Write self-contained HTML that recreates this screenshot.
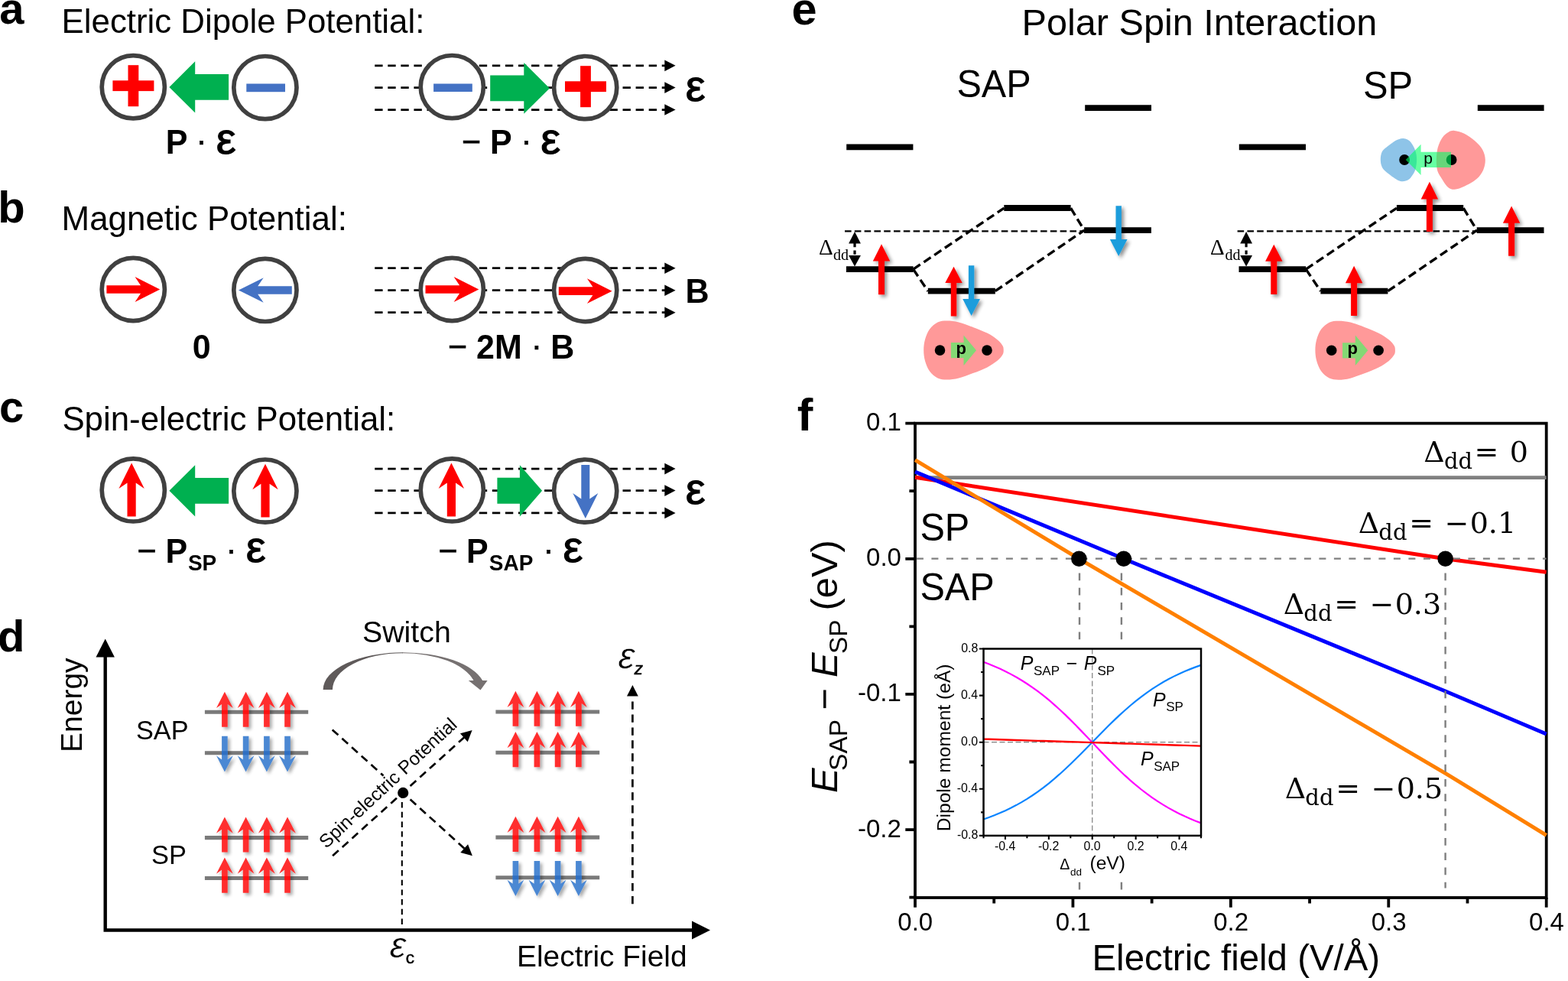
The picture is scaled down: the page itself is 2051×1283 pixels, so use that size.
<!DOCTYPE html>
<html lang="en">
<head>
<meta charset="utf-8">
<title>Spin-electric potential figure</title>
<style>
html,body{margin:0;padding:0;background:#fff}
body{width:2051px;height:1283px;overflow:hidden}
svg{display:block}
text{white-space:pre}
</style>
</head>
<body>
<svg width="2051" height="1283" viewBox="0 0 2051 1283">
<rect width="2051" height="1283" fill="#fff"/>
<defs>
<filter id="sh" x="-60%" y="-30%" width="240%" height="170%">
<feGaussianBlur in="SourceAlpha" stdDeviation="2.3"/>
<feOffset dx="2.8" dy="2.8" result="b"/>
<feComponentTransfer><feFuncA type="linear" slope="0.34"/></feComponentTransfer>
<feMerge><feMergeNode/><feMergeNode in="SourceGraphic"/></feMerge>
</filter>
<filter id="sh2" x="-80%" y="-30%" width="300%" height="170%">
<feGaussianBlur in="SourceAlpha" stdDeviation="2.8"/>
<feOffset dx="3.4" dy="3" result="b"/>
<feComponentTransfer><feFuncA type="linear" slope="0.45"/></feComponentTransfer>
<feMerge><feMergeNode/><feMergeNode in="SourceGraphic"/></feMerge>
</filter>
</defs>
<!-- panel a -->
<text x="-0.7" y="30.8" font-family='"Liberation Sans", sans-serif' font-size="58" font-weight="bold">a</text>
<text x="80.61" y="43.4" font-family='"Liberation Sans", sans-serif' font-size="43.8">Electric Dipole Potential:</text>
<circle cx="174.3" cy="113.8" r="41.1" fill="#fff" stroke="#404040" stroke-width="5.7"/>
<rect x="147.4" y="105.3" width="54" height="13.8" fill="#ff0000"/>
<rect x="167.5" y="85.2" width="13.8" height="54" fill="#ff0000"/>
<polygon points="299.1,130.8 255.2,130.8 255.2,147.5 221.4,113.9 255.2,80.3 255.2,97 299.1,97" fill="#00b050"/>
<circle cx="346.9" cy="114.6" r="41.1" fill="#fff" stroke="#404040" stroke-width="5.7"/>
<rect x="322.3" y="109.5" width="50.7" height="10.7" fill="#4472c4"/>
<text font-family='"Liberation Sans", sans-serif' font-size="43" font-weight="bold" transform="translate(216.72 201.4) scale(1 1.045)">P</text>
<text x="256.25" y="198.4" font-family='"Liberation Sans", sans-serif' font-size="43" stroke="#000" stroke-width="0.7">·</text>
<text x="282.82" y="200.7" font-family='"Liberation Sans", sans-serif' font-size="58" stroke="#000" stroke-width="1.2">ε</text>
<line x1="490.2" y1="85.84" x2="870.5" y2="85.84" stroke="#000" stroke-width="2.7" stroke-dasharray="10.4 6.67"/>
<polygon points="869.3,78.54 883.6,85.84 869.3,93.14" fill="#000"/>
<line x1="490.2" y1="114.6" x2="870.5" y2="114.6" stroke="#000" stroke-width="2.7" stroke-dasharray="10.4 6.67"/>
<polygon points="869.3,107.3 883.6,114.6 869.3,121.9" fill="#000"/>
<line x1="490.2" y1="143.57" x2="870.5" y2="143.57" stroke="#000" stroke-width="2.7" stroke-dasharray="10.4 6.67"/>
<polygon points="869.3,136.27 883.6,143.57 869.3,150.87" fill="#000"/>
<circle cx="591.3" cy="113.6" r="41.1" fill="#fff" stroke="#404040" stroke-width="5.7"/>
<rect x="567.1" y="109.5" width="50.7" height="10.5" fill="#4472c4"/>
<polygon points="641.2,98.55 685.3,98.55 685.3,82.1 718.9,115.4 685.3,148.7 685.3,132.25 641.2,132.25" fill="#00b050"/>
<circle cx="765.7" cy="114.6" r="41.1" fill="#fff" stroke="#404040" stroke-width="5.7"/>
<rect x="739" y="106.3" width="54" height="13.8" fill="#ff0000"/>
<rect x="759.1" y="86.2" width="13.8" height="54" fill="#ff0000"/>
<text x="896.82" y="131.9" font-family='"Liberation Sans", sans-serif' font-size="58" stroke="#000" stroke-width="1.2">ε</text>
<text x="603.88" y="200.4" font-family='"Liberation Sans", sans-serif' font-size="43" stroke="#000" stroke-width="0.7">−</text>
<text font-family='"Liberation Sans", sans-serif' font-size="43" font-weight="bold" transform="translate(640.92 201.4) scale(1 1.045)">P</text>
<text x="681.35" y="198.4" font-family='"Liberation Sans", sans-serif' font-size="43" stroke="#000" stroke-width="0.7">·</text>
<text x="707.22" y="200.7" font-family='"Liberation Sans", sans-serif' font-size="58" stroke="#000" stroke-width="1.2">ε</text>
<!-- panel b -->
<text x="-2.72" y="290.7" font-family='"Liberation Sans", sans-serif' font-size="58" font-weight="bold">b</text>
<text x="80.6" y="300.7" font-family='"Liberation Sans", sans-serif' font-size="43.9">Magnetic Potential:</text>
<circle cx="174.3" cy="378.5" r="41.1" fill="#fff" stroke="#404040" stroke-width="5.7"/>
<polygon points="139.4,373.15 184,373.15 176.5,362.1 209.2,378.5 176.5,394.9 184,383.85 139.4,383.85" fill="#ff0000"/>
<circle cx="346.9" cy="379.4" r="41.1" fill="#fff" stroke="#404040" stroke-width="5.7"/>
<polygon points="381.8,384.7 337.2,384.7 344.7,395.7 312,379.5 344.7,363.3 337.2,374.3 381.8,374.3" fill="#4472c4"/>
<text font-family='"Liberation Sans", sans-serif' font-size="43" font-weight="bold" transform="translate(251.8 468.7) scale(1 1.045)">0</text>
<line x1="490.2" y1="350.7" x2="870.5" y2="350.7" stroke="#000" stroke-width="2.7" stroke-dasharray="10.4 6.67"/>
<polygon points="869.3,343.4 883.6,350.7 869.3,358" fill="#000"/>
<line x1="490.2" y1="379.7" x2="870.5" y2="379.7" stroke="#000" stroke-width="2.7" stroke-dasharray="10.4 6.67"/>
<polygon points="869.3,372.4 883.6,379.7 869.3,387" fill="#000"/>
<line x1="490.2" y1="408.7" x2="870.5" y2="408.7" stroke="#000" stroke-width="2.7" stroke-dasharray="10.4 6.67"/>
<polygon points="869.3,401.4 883.6,408.7 869.3,416" fill="#000"/>
<circle cx="591.3" cy="378.5" r="41.1" fill="#fff" stroke="#404040" stroke-width="5.7"/>
<polygon points="556.5,373.15 601.1,373.15 593.6,362.1 626.3,378.5 593.6,394.9 601.1,383.85 556.5,383.85" fill="#ff0000"/>
<circle cx="765.7" cy="379.5" r="41.1" fill="#fff" stroke="#404040" stroke-width="5.7"/>
<polygon points="730.8,375.35 775.4,375.35 767.9,364.3 800.6,380.7 767.9,397.1 775.4,386.05 730.8,386.05" fill="#ff0000"/>
<text font-family='"Liberation Sans", sans-serif' font-size="43" font-weight="bold" transform="translate(896.42 395.8) scale(1 1.045)">B</text>
<text x="586.08" y="467.7" font-family='"Liberation Sans", sans-serif' font-size="43" stroke="#000" stroke-width="0.7">−</text>
<text font-family='"Liberation Sans", sans-serif' font-size="43" font-weight="bold" transform="translate(623.01 468.7) scale(1 1.045)">2M</text>
<text x="694.85" y="465.7" font-family='"Liberation Sans", sans-serif' font-size="43" stroke="#000" stroke-width="0.7">·</text>
<text font-family='"Liberation Sans", sans-serif' font-size="43" font-weight="bold" transform="translate(720.3 468.7) scale(1 1.045)">B</text>
<!-- panel c -->
<text x="-1.07" y="552.4" font-family='"Liberation Sans", sans-serif' font-size="58" font-weight="bold">c</text>
<text x="81.41" y="562.9" font-family='"Liberation Sans", sans-serif' font-size="43.8">Spin-electric Potential:</text>
<circle cx="174.3" cy="640.9" r="41.1" fill="#fff" stroke="#404040" stroke-width="5.7"/>
<polygon points="166.5,675.5 166.5,631.6 155.4,639 172.1,605.6 188.8,639 177.7,631.6 177.7,675.5" fill="#ff0000"/>
<polygon points="299.1,658.7 255.2,658.7 255.2,675.4 221.4,641.8 255.2,608.2 255.2,624.9 299.1,624.9" fill="#00b050"/>
<circle cx="346.9" cy="642.1" r="41.1" fill="#fff" stroke="#404040" stroke-width="5.7"/>
<polygon points="341.4,676.5 341.4,632.8 330.3,640.2 347,606.8 363.7,640.2 352.6,632.8 352.6,676.5" fill="#ff0000"/>
<text x="179.48" y="735" font-family='"Liberation Sans", sans-serif' font-size="43" stroke="#000" stroke-width="0.7">−</text>
<text font-family='"Liberation Sans", sans-serif' font-size="43" font-weight="bold" transform="translate(216.52 736) scale(1 1.045)">P</text>
<text font-family='"Liberation Sans", sans-serif' font-size="28" font-weight="bold" transform="translate(245.89 745.7) scale(1 1.045)">SP</text>
<text x="295.15" y="733" font-family='"Liberation Sans", sans-serif' font-size="43" stroke="#000" stroke-width="0.7">·</text>
<text x="321.82" y="735.3" font-family='"Liberation Sans", sans-serif' font-size="58" stroke="#000" stroke-width="1.2">ε</text>
<line x1="490.2" y1="613.1" x2="870.5" y2="613.1" stroke="#000" stroke-width="2.7" stroke-dasharray="10.4 6.67"/>
<polygon points="869.3,605.8 883.6,613.1 869.3,620.4" fill="#000"/>
<line x1="490.2" y1="641.6" x2="870.5" y2="641.6" stroke="#000" stroke-width="2.7" stroke-dasharray="10.4 6.67"/>
<polygon points="869.3,634.3 883.6,641.6 869.3,648.9" fill="#000"/>
<line x1="490.2" y1="670.9" x2="870.5" y2="670.9" stroke="#000" stroke-width="2.7" stroke-dasharray="10.4 6.67"/>
<polygon points="869.3,663.6 883.6,670.9 869.3,678.2" fill="#000"/>
<circle cx="591.3" cy="640.9" r="41.1" fill="#fff" stroke="#404040" stroke-width="5.7"/>
<polygon points="584.8,675.5 584.8,631.6 573.7,639 590.4,605.6 607.1,639 596,631.6 596,675.5" fill="#ff0000"/>
<polygon points="650.4,624.85 679.9,624.85 679.9,608.2 709.1,641.8 679.9,675.4 679.9,658.75 650.4,658.75" fill="#00b050"/>
<circle cx="765.7" cy="642.1" r="41.1" fill="#fff" stroke="#404040" stroke-width="5.7"/>
<polygon points="771.3,608 771.3,652.4 782.3,645 765.8,678 749.3,645 760.3,652.4 760.3,608" fill="#4472c4"/>
<text x="896.82" y="658.9" font-family='"Liberation Sans", sans-serif' font-size="58" stroke="#000" stroke-width="1.2">ε</text>
<text x="573.38" y="735" font-family='"Liberation Sans", sans-serif' font-size="43" stroke="#000" stroke-width="0.7">−</text>
<text font-family='"Liberation Sans", sans-serif' font-size="43" font-weight="bold" transform="translate(609.92 736) scale(1 1.045)">P</text>
<text font-family='"Liberation Sans", sans-serif' font-size="28" font-weight="bold" transform="translate(639.79 745.7) scale(1 1.045)">SAP</text>
<text x="710.25" y="733" font-family='"Liberation Sans", sans-serif' font-size="43" stroke="#000" stroke-width="0.7">·</text>
<text x="736.52" y="735.3" font-family='"Liberation Sans", sans-serif' font-size="58" stroke="#000" stroke-width="1.2">ε</text>
<!-- panel d -->
<text x="-2.98" y="851.8" font-family='"Liberation Sans", sans-serif' font-size="58" font-weight="bold">d</text>
<path d="M137.7 858 V1216.5 H906" fill="none" stroke="#000" stroke-width="4.4" stroke-linejoin="miter"/>
<polygon points="125.5,859.4 137.7,835.4 149.9,859.4" fill="#000"/>
<polygon points="905,1204.5 929,1216.5 905,1228.5" fill="#000"/>
<text x="0" y="0" font-family='"Liberation Sans", sans-serif' font-size="39" transform="translate(107.3 984) rotate(-90)">Energy</text>
<text x="676.01" y="1264.3" font-family='"Liberation Sans", sans-serif' font-size="38.9">Electric Field</text>
<text font-family='"Liberation Sans", sans-serif' font-size="34.3" transform="translate(177.94 966.5) scale(1 1.04)">SAP</text>
<text font-family='"Liberation Sans", sans-serif' font-size="34.4" transform="translate(198.04 1129.5) scale(1 1.04)">SP</text>
<line x1="267.9" y1="931.3" x2="403.2" y2="931.3" stroke="#7a7a7a" stroke-width="5.1"/>
<line x1="267.9" y1="984.8" x2="403.2" y2="984.8" stroke="#7a7a7a" stroke-width="5.1"/>
<line x1="267.9" y1="1095.6" x2="403.2" y2="1095.6" stroke="#7a7a7a" stroke-width="5.1"/>
<line x1="267.9" y1="1148.5" x2="403.2" y2="1148.5" stroke="#7a7a7a" stroke-width="5.1"/>
<line x1="648.4" y1="931" x2="784.2" y2="931" stroke="#7a7a7a" stroke-width="5.1"/>
<line x1="648.4" y1="984.2" x2="784.2" y2="984.2" stroke="#7a7a7a" stroke-width="5.1"/>
<line x1="648.4" y1="1095.1" x2="784.2" y2="1095.1" stroke="#7a7a7a" stroke-width="5.1"/>
<line x1="648.4" y1="1147.7" x2="784.2" y2="1147.7" stroke="#7a7a7a" stroke-width="5.1"/>
<g filter="url(#sh)">
<polygon points="290.1,950.8 290.1,920.9 283,926 293.9,904.7 304.8,926 297.7,920.9 297.7,950.8" fill="#ff2d2d"/>
<polygon points="317.8,950.8 317.8,920.9 310.7,926 321.6,904.7 332.5,926 325.4,920.9 325.4,950.8" fill="#ff2d2d"/>
<polygon points="345.1,950.8 345.1,920.9 338,926 348.9,904.7 359.8,926 352.7,920.9 352.7,950.8" fill="#ff2d2d"/>
<polygon points="372.2,950.8 372.2,920.9 365.1,926 376,904.7 386.9,926 379.8,920.9 379.8,950.8" fill="#ff2d2d"/>
<polygon points="297.7,962.7 297.7,993.4 304.8,988.3 293.9,1009.6 283,988.3 290.1,993.4 290.1,962.7" fill="#4c88d3"/>
<polygon points="325.4,962.7 325.4,993.4 332.5,988.3 321.6,1009.6 310.7,988.3 317.8,993.4 317.8,962.7" fill="#4c88d3"/>
<polygon points="352.7,962.7 352.7,993.4 359.8,988.3 348.9,1009.6 338,988.3 345.1,993.4 345.1,962.7" fill="#4c88d3"/>
<polygon points="379.8,962.7 379.8,993.4 386.9,988.3 376,1009.6 365.1,988.3 372.2,993.4 372.2,962.7" fill="#4c88d3"/>
<polygon points="290.1,1114.6 290.1,1084.7 283,1089.8 293.9,1068.5 304.8,1089.8 297.7,1084.7 297.7,1114.6" fill="#ff2d2d"/>
<polygon points="317.8,1114.6 317.8,1084.7 310.7,1089.8 321.6,1068.5 332.5,1089.8 325.4,1084.7 325.4,1114.6" fill="#ff2d2d"/>
<polygon points="345.1,1114.6 345.1,1084.7 338,1089.8 348.9,1068.5 359.8,1089.8 352.7,1084.7 352.7,1114.6" fill="#ff2d2d"/>
<polygon points="372.2,1114.6 372.2,1084.7 365.1,1089.8 376,1068.5 386.9,1089.8 379.8,1084.7 379.8,1114.6" fill="#ff2d2d"/>
<polygon points="290.1,1167.7 290.1,1137.6 283,1142.7 293.9,1121.4 304.8,1142.7 297.7,1137.6 297.7,1167.7" fill="#ff2d2d"/>
<polygon points="317.8,1167.7 317.8,1137.6 310.7,1142.7 321.6,1121.4 332.5,1142.7 325.4,1137.6 325.4,1167.7" fill="#ff2d2d"/>
<polygon points="345.1,1167.7 345.1,1137.6 338,1142.7 348.9,1121.4 359.8,1142.7 352.7,1137.6 352.7,1167.7" fill="#ff2d2d"/>
<polygon points="372.2,1167.7 372.2,1137.6 365.1,1142.7 376,1121.4 386.9,1142.7 379.8,1137.6 379.8,1167.7" fill="#ff2d2d"/>
<polygon points="670.6,949.8 670.6,919.9 663.5,925 674.4,903.7 685.3,925 678.2,919.9 678.2,949.8" fill="#ff2d2d"/>
<polygon points="698.6,949.8 698.6,919.9 691.5,925 702.4,903.7 713.3,925 706.2,919.9 706.2,949.8" fill="#ff2d2d"/>
<polygon points="725.8,949.8 725.8,919.9 718.7,925 729.6,903.7 740.5,925 733.4,919.9 733.4,949.8" fill="#ff2d2d"/>
<polygon points="753.1,949.8 753.1,919.9 746,925 756.9,903.7 767.8,925 760.7,919.9 760.7,949.8" fill="#ff2d2d"/>
<polygon points="670.6,1003.2 670.6,973.2 663.5,978.3 674.4,957 685.3,978.3 678.2,973.2 678.2,1003.2" fill="#ff2d2d"/>
<polygon points="698.6,1003.2 698.6,973.2 691.5,978.3 702.4,957 713.3,978.3 706.2,973.2 706.2,1003.2" fill="#ff2d2d"/>
<polygon points="725.8,1003.2 725.8,973.2 718.7,978.3 729.6,957 740.5,978.3 733.4,973.2 733.4,1003.2" fill="#ff2d2d"/>
<polygon points="753.1,1003.2 753.1,973.2 746,978.3 756.9,957 767.8,978.3 760.7,973.2 760.7,1003.2" fill="#ff2d2d"/>
<polygon points="670.6,1113.9 670.6,1084 663.5,1089.1 674.4,1067.8 685.3,1089.1 678.2,1084 678.2,1113.9" fill="#ff2d2d"/>
<polygon points="698.6,1113.9 698.6,1084 691.5,1089.1 702.4,1067.8 713.3,1089.1 706.2,1084 706.2,1113.9" fill="#ff2d2d"/>
<polygon points="725.8,1113.9 725.8,1084 718.7,1089.1 729.6,1067.8 740.5,1089.1 733.4,1084 733.4,1113.9" fill="#ff2d2d"/>
<polygon points="753.1,1113.9 753.1,1084 746,1089.1 756.9,1067.8 767.8,1089.1 760.7,1084 760.7,1113.9" fill="#ff2d2d"/>
<polygon points="678.2,1126 678.2,1155.8 685.3,1150.7 674.4,1172 663.5,1150.7 670.6,1155.8 670.6,1126" fill="#4c88d3"/>
<polygon points="706.2,1126 706.2,1155.8 713.3,1150.7 702.4,1172 691.5,1150.7 698.6,1155.8 698.6,1126" fill="#4c88d3"/>
<polygon points="733.4,1126 733.4,1155.8 740.5,1150.7 729.6,1172 718.7,1150.7 725.8,1155.8 725.8,1126" fill="#4c88d3"/>
<polygon points="760.7,1126 760.7,1155.8 767.8,1150.7 756.9,1172 746,1150.7 753.1,1155.8 753.1,1126" fill="#4c88d3"/>
</g>
<rect x="290.1" y="928.75" width="7.6" height="5.1" fill="#ff1010"/>
<rect x="317.8" y="928.75" width="7.6" height="5.1" fill="#ff1010"/>
<rect x="345.1" y="928.75" width="7.6" height="5.1" fill="#ff1010"/>
<rect x="372.2" y="928.75" width="7.6" height="5.1" fill="#ff1010"/>
<rect x="290.1" y="982.25" width="7.6" height="5.1" fill="#2f6fc2"/>
<rect x="317.8" y="982.25" width="7.6" height="5.1" fill="#2f6fc2"/>
<rect x="345.1" y="982.25" width="7.6" height="5.1" fill="#2f6fc2"/>
<rect x="372.2" y="982.25" width="7.6" height="5.1" fill="#2f6fc2"/>
<rect x="290.1" y="1093.05" width="7.6" height="5.1" fill="#ff1010"/>
<rect x="317.8" y="1093.05" width="7.6" height="5.1" fill="#ff1010"/>
<rect x="345.1" y="1093.05" width="7.6" height="5.1" fill="#ff1010"/>
<rect x="372.2" y="1093.05" width="7.6" height="5.1" fill="#ff1010"/>
<rect x="290.1" y="1145.95" width="7.6" height="5.1" fill="#ff1010"/>
<rect x="317.8" y="1145.95" width="7.6" height="5.1" fill="#ff1010"/>
<rect x="345.1" y="1145.95" width="7.6" height="5.1" fill="#ff1010"/>
<rect x="372.2" y="1145.95" width="7.6" height="5.1" fill="#ff1010"/>
<rect x="670.6" y="928.45" width="7.6" height="5.1" fill="#ff1010"/>
<rect x="698.6" y="928.45" width="7.6" height="5.1" fill="#ff1010"/>
<rect x="725.8" y="928.45" width="7.6" height="5.1" fill="#ff1010"/>
<rect x="753.1" y="928.45" width="7.6" height="5.1" fill="#ff1010"/>
<rect x="670.6" y="981.65" width="7.6" height="5.1" fill="#ff1010"/>
<rect x="698.6" y="981.65" width="7.6" height="5.1" fill="#ff1010"/>
<rect x="725.8" y="981.65" width="7.6" height="5.1" fill="#ff1010"/>
<rect x="753.1" y="981.65" width="7.6" height="5.1" fill="#ff1010"/>
<rect x="670.6" y="1092.55" width="7.6" height="5.1" fill="#ff1010"/>
<rect x="698.6" y="1092.55" width="7.6" height="5.1" fill="#ff1010"/>
<rect x="725.8" y="1092.55" width="7.6" height="5.1" fill="#ff1010"/>
<rect x="753.1" y="1092.55" width="7.6" height="5.1" fill="#ff1010"/>
<rect x="670.6" y="1145.15" width="7.6" height="5.1" fill="#2f6fc2"/>
<rect x="698.6" y="1145.15" width="7.6" height="5.1" fill="#2f6fc2"/>
<rect x="725.8" y="1145.15" width="7.6" height="5.1" fill="#2f6fc2"/>
<rect x="753.1" y="1145.15" width="7.6" height="5.1" fill="#2f6fc2"/>
<text x="474.02" y="840" font-family='"Liberation Sans", sans-serif' font-size="39.3">Switch</text>
<path d="M422.6 902 A104.4 48.8 0 0 1 527 853.2 L527 854.2 A92.1 47.8 0 0 0 434.9 902 Z" fill="#5f5a5a"/>
<path d="M526 853.2 A107.4 48.8 0 0 1 631.2 890.1 L637.6 890.1 L628.5 902.6 L612.8 890.1 L619.5 890.1 A95.4 47.8 0 0 0 526 854.2 Z" fill="#767171"/>
<line x1="434.7" y1="954.4" x2="501.5" y2="1014.5" stroke="#000" stroke-width="2.7" stroke-dasharray="10.4 6.67"/>
<line x1="527.2" y1="1036.9" x2="607.91" y2="1110.22" stroke="#000" stroke-width="2.7" stroke-dashoffset="4.4" stroke-dasharray="10.4 6.67"/>
<polygon points="612.08,1104.15 617.9,1119.3 602.26,1114.95" fill="#000"/>
<line x1="435.1" y1="1119.3" x2="607.57" y2="964.03" stroke="#000" stroke-width="2.7" stroke-dasharray="10.4 6.67"/>
<polygon points="601.94,959.28 617.6,955 611.71,970.13" fill="#000"/>
<line x1="525.8" y1="1036.4" x2="525.8" y2="1210.5" stroke="#000" stroke-width="2.1" stroke-dasharray="7.4 5.3"/>
<circle cx="527.2" cy="1036.9" r="7.1"/>
<text x="0" y="0" font-family='"Liberation Sans", sans-serif' font-size="24.4" transform="translate(426.8 1110.4) rotate(-43)">Spin-electric Potential</text>
<text font-family='"Liberation Sans", sans-serif' font-size="47" font-style="italic" stroke="#fff" stroke-width="0.5" transform="translate(509.22 1251.6) skewX(-4)">ε</text>
<text x="530.64" y="1260.2" font-family='"Liberation Sans", sans-serif' font-size="22.5" stroke="#000" stroke-width="0.5">c</text>
<text font-family='"Liberation Sans", sans-serif' font-size="48" font-style="italic" stroke="#fff" stroke-width="0.5" transform="translate(808 873.6) skewX(-4)">ε</text>
<text x="829.73" y="882" font-family='"Liberation Sans", sans-serif' font-size="22.5" font-style="italic" stroke="#000" stroke-width="0.5">z</text>
<line x1="827.4" y1="1182.3" x2="827.4" y2="916" stroke="#000" stroke-width="2.7" stroke-dasharray="10.3 6.67"/>
<polygon points="820,910.6 827.4,895.9 834.8,910.6" fill="#000"/>
<!-- panel e -->
<text x="1035.58" y="31.8" font-family='"Liberation Sans", sans-serif' font-size="59.5" font-weight="bold">e</text>
<text x="1336.61" y="46" font-family='"Liberation Sans", sans-serif' font-size="48.6">Polar Spin Interaction</text>
<text font-family='"Liberation Sans", sans-serif' font-size="48.6" transform="translate(1251.39 127.4) scale(1 1.04)">SAP</text>
<text font-family='"Liberation Sans", sans-serif' font-size="48.8" transform="translate(1782.98 128.6) scale(1 1.04)">SP</text>
<line x1="1419.2" y1="141.2" x2="1506" y2="141.2" stroke="#000" stroke-width="7.8"/>
<line x1="1107.2" y1="192.4" x2="1194.4" y2="192.4" stroke="#000" stroke-width="7.8"/>
<line x1="1105" y1="302.3" x2="1419" y2="302.3" stroke="#000" stroke-width="2.3" stroke-dasharray="8.6 4.2"/>
<path d="M1194.6 352.1 L1313.4 272.1 M1194.6 352.1 L1213.8 380.7 M1400.6 272.1 L1418.2 301.2 M1301.8 380.7 L1418.2 301.2" fill="none" stroke="#000" stroke-width="3.4" stroke-dasharray="11 5.6"/>
<line x1="1313.3" y1="272" x2="1400.6" y2="272" stroke="#000" stroke-width="7.8"/>
<line x1="1418.1" y1="301.2" x2="1505.9" y2="301.2" stroke="#000" stroke-width="7.8"/>
<line x1="1106.9" y1="352.1" x2="1194.6" y2="352.1" stroke="#000" stroke-width="7.8"/>
<line x1="1213.8" y1="380.7" x2="1301.8" y2="380.7" stroke="#000" stroke-width="7.8"/>
<text x="1071.1" y="333.2" font-family='"Liberation Serif", serif' font-size="29">Δ</text>
<text x="1089.88" y="340.1" font-family='"Liberation Serif", serif' font-size="20">dd</text>
<polygon points="1110.1,318.6 1118,303 1125.9,318.6" fill="#000"/>
<polygon points="1125.9,334.1 1118,348.4 1110.1,334.1" fill="#000"/>
<line x1="1118" y1="318" x2="1118" y2="334.6" stroke="#000" stroke-width="3.2" stroke-dasharray="5.2 4.4"/>
<line x1="1932.8" y1="141.2" x2="2019.6" y2="141.2" stroke="#000" stroke-width="7.8"/>
<line x1="1620.8" y1="192.4" x2="1708" y2="192.4" stroke="#000" stroke-width="7.8"/>
<line x1="1618.6" y1="302.3" x2="1932.6" y2="302.3" stroke="#000" stroke-width="2.3" stroke-dasharray="8.6 4.2"/>
<path d="M1708.2 352.1 L1827 272.1 M1708.2 352.1 L1727.4 380.7 M1914.2 272.1 L1931.8 301.2 M1815.4 380.7 L1931.8 301.2" fill="none" stroke="#000" stroke-width="3.4" stroke-dasharray="11 5.6"/>
<line x1="1826.9" y1="272" x2="1914.2" y2="272" stroke="#000" stroke-width="7.8"/>
<line x1="1931.7" y1="301.2" x2="2019.5" y2="301.2" stroke="#000" stroke-width="7.8"/>
<line x1="1620.5" y1="352.1" x2="1708.2" y2="352.1" stroke="#000" stroke-width="7.8"/>
<line x1="1727.4" y1="380.7" x2="1815.4" y2="380.7" stroke="#000" stroke-width="7.8"/>
<text x="1583.1" y="333.2" font-family='"Liberation Serif", serif' font-size="29">Δ</text>
<text x="1602.48" y="340.1" font-family='"Liberation Serif", serif' font-size="20">dd</text>
<polygon points="1622.2,318.6 1630.1,303 1638,318.6" fill="#000"/>
<polygon points="1638,334.1 1630.1,348.4 1622.2,334.1" fill="#000"/>
<line x1="1630.1" y1="318" x2="1630.1" y2="334.6" stroke="#000" stroke-width="3.2" stroke-dasharray="5.2 4.4"/>
<path d="M1208.2 458 C1208.2 453.33 1208.7 448.58 1210 444 C1211.3 439.42 1213.25 434.23 1216 430.5 C1218.75 426.77 1222.75 423.42 1226.5 421.6 C1230.25 419.78 1233.88 419.63 1238.5 419.6 C1243.12 419.57 1248.5 420.02 1254.2 421.4 C1259.9 422.78 1266.53 425.53 1272.7 427.9 C1278.87 430.27 1285.9 432.88 1291.2 435.6 C1296.5 438.32 1301.13 441.47 1304.5 444.2 C1307.87 446.93 1310.03 449.7 1311.4 452 C1312.77 454.3 1312.7 456 1312.7 458 C1312.7 460 1312.77 461.7 1311.4 464 C1310.03 466.3 1307.87 469.07 1304.5 471.8 C1301.13 474.53 1296.5 477.68 1291.2 480.4 C1285.9 483.12 1278.87 485.73 1272.7 488.1 C1266.53 490.47 1259.9 493.18 1254.2 494.6 C1248.5 496.02 1243.12 496.63 1238.5 496.6 C1233.88 496.57 1230.25 496.25 1226.5 494.4 C1222.75 492.55 1218.75 489.23 1216 485.5 C1213.25 481.77 1211.3 476.58 1210 472 C1208.7 467.42 1208.2 462.67 1208.2 458Z" fill="#ff9999"/>
<circle cx="1229.5" cy="458.1" r="6.8"/><circle cx="1291" cy="458.1" r="6.8"/>
<polygon points="1243.9,448.1 1260.5,448.1 1260.5,438.4 1277,458.2 1260.5,478 1260.5,468.3 1243.9,468.3" fill="#84d875"/>
<text x="1250.45" y="462.7" font-family='"Liberation Sans", sans-serif' font-size="22" font-weight="bold">p</text>
<path d="M1720.4 458.1 C1720.4 453.43 1720.9 448.68 1722.2 444.1 C1723.5 439.52 1725.45 434.33 1728.2 430.6 C1730.95 426.87 1734.95 423.52 1738.7 421.7 C1742.45 419.88 1746.08 419.73 1750.7 419.7 C1755.32 419.67 1760.7 420.12 1766.4 421.5 C1772.1 422.88 1778.73 425.63 1784.9 428 C1791.07 430.37 1798.1 432.98 1803.4 435.7 C1808.7 438.42 1813.33 441.57 1816.7 444.3 C1820.07 447.03 1822.23 449.8 1823.6 452.1 C1824.97 454.4 1824.9 456.1 1824.9 458.1 C1824.9 460.1 1824.97 461.8 1823.6 464.1 C1822.23 466.4 1820.07 469.17 1816.7 471.9 C1813.33 474.63 1808.7 477.78 1803.4 480.5 C1798.1 483.22 1791.07 485.83 1784.9 488.2 C1778.73 490.57 1772.1 493.28 1766.4 494.7 C1760.7 496.12 1755.32 496.73 1750.7 496.7 C1746.08 496.67 1742.45 496.35 1738.7 494.5 C1734.95 492.65 1730.95 489.33 1728.2 485.6 C1725.45 481.87 1723.5 476.68 1722.2 472.1 C1720.9 467.52 1720.4 462.77 1720.4 458.1Z" fill="#ff9999"/>
<circle cx="1741.7" cy="458.2" r="6.8"/><circle cx="1803.1" cy="458.2" r="6.8"/>
<polygon points="1756,448.2 1772.8,448.2 1772.8,438.5 1789.3,458.3 1772.8,478.1 1772.8,468.4 1756,468.4" fill="#84d875"/>
<text x="1762.55" y="462.8" font-family='"Liberation Sans", sans-serif' font-size="22" font-weight="bold">p</text>
<path d="M1805.8 208.4 C1805.8 205.73 1806.2 202.73 1807 200.5 C1807.8 198.27 1808.05 197.43 1810.6 195 C1813.15 192.57 1819.15 188.03 1822.3 185.9 C1825.45 183.77 1827.28 183 1829.5 182.2 C1831.72 181.4 1833.68 181.03 1835.6 181.1 C1837.52 181.17 1839.32 181.68 1841 182.6 C1842.68 183.52 1844 184.25 1845.7 186.6 C1847.4 188.95 1849.97 193.07 1851.2 196.7 C1852.43 200.33 1853.1 204.13 1853.1 208.4 C1853.1 212.67 1852.43 218.4 1851.2 222.3 C1849.97 226.2 1847.4 229.55 1845.7 231.8 C1844 234.05 1842.82 234.9 1841 235.8 C1839.18 236.7 1836.8 237.17 1834.8 237.2 C1832.8 237.23 1831.08 236.9 1829 236 C1826.92 235.1 1825.37 234.07 1822.3 231.8 C1819.23 229.53 1813.15 224.95 1810.6 222.4 C1808.05 219.85 1807.8 218.83 1807 216.5 C1806.2 214.17 1805.8 211.07 1805.8 208.4Z" fill="#8ec4e8"/>
<path d="M1878.9 208.5 C1879.03 203.57 1879.45 197.63 1880.8 192.8 C1882.15 187.97 1884.67 182.85 1887 179.5 C1889.33 176.15 1892.2 174.13 1894.8 172.7 C1897.4 171.27 1899.08 170.53 1902.6 170.9 C1906.12 171.27 1911.47 172.68 1915.9 174.9 C1920.33 177.12 1925.3 180.7 1929.2 184.2 C1933.1 187.7 1937.03 191.75 1939.3 195.9 C1941.57 200.05 1942.67 204.68 1942.8 209.1 C1942.93 213.52 1941.98 218.23 1940.1 222.4 C1938.22 226.57 1935.53 230.57 1931.5 234.1 C1927.47 237.63 1920.72 241.32 1915.9 243.6 C1911.08 245.88 1906.37 247.7 1902.6 247.8 C1898.83 247.9 1896.28 246.87 1893.3 244.2 C1890.32 241.53 1886.92 235.43 1884.7 231.8 C1882.48 228.17 1880.97 226.28 1880 222.4 C1879.03 218.52 1878.77 213.43 1878.9 208.5Z" fill="#ff9999"/>
<circle cx="1837.1" cy="209" r="6.9"/><circle cx="1898.6" cy="209" r="6.9"/>
<polygon points="1898,218.95 1858.6,218.95 1858.6,229.1 1838.7,208.9 1858.6,188.7 1858.6,198.85 1898,198.85" fill="#00ff66" fill-opacity="0.6"/>
<text x="1862.15" y="213.8" font-family='"Liberation Sans", sans-serif' font-size="21">p</text>
<g filter="url(#sh2)">
<polygon points="1149,385.2 1149,341.4 1141.8,341.4 1153,319.2 1164.2,341.4 1157,341.4 1157,385.2" fill="#ff0000"/>
<polygon points="1243.8,413.6 1243.8,369.9 1236.3,369.9 1247.5,348.8 1258.7,369.9 1251.2,369.9 1251.2,413.6" fill="#ff0000"/>
<polygon points="1274.3,347.2 1274.3,391.1 1282,391.1 1270.6,413.1 1259.2,391.1 1266.9,391.1 1266.9,347.2" fill="#1f9ddc"/>
<polygon points="1466.9,269.3 1466.9,313.1 1474.6,313.1 1463.2,335.1 1451.8,313.1 1459.5,313.1 1459.5,269.3" fill="#1f9ddc"/>
<polygon points="1662.3,385.1 1662.3,341.7 1655.1,341.7 1666.3,319.7 1677.5,341.7 1670.3,341.7 1670.3,385.1" fill="#ff0000"/>
<polygon points="1767.1,412.9 1767.1,370.2 1759.9,370.2 1771.1,347.8 1782.3,370.2 1775.1,370.2 1775.1,412.9" fill="#ff0000"/>
<polygon points="1865.9,303.1 1865.9,260.5 1858.7,260.5 1869.9,237.8 1881.1,260.5 1873.9,260.5 1873.9,303.1" fill="#ff0000"/>
<polygon points="1973.1,334.8 1973.1,291.7 1965.9,291.7 1977.1,269.5 1988.3,291.7 1981.1,291.7 1981.1,334.8" fill="#ff0000"/>
</g>
<!-- panel f -->
<text font-family='"Liberation Sans", sans-serif' font-size="59.5" font-weight="bold" transform="translate(1042.64 562.8) scale(1.04 1)">f</text>
<rect x="1197" y="553.65" width="825.7" height="620.35" fill="none" stroke="#000" stroke-width="3.8"/>
<path d="M1197 1174 v12.7 M1403.42 1174 v12.7 M1609.85 1174 v12.7 M1816.28 1174 v12.7 M2022.7 1174 v12.7 M1300.21 1174 v7.6 M1506.64 1174 v7.6 M1713.06 1174 v7.6 M1919.49 1174 v7.6 M1197 553.65 h-12.7 M1197 730.8 h-12.7 M1197 907.95 h-12.7 M1197 1085.1 h-12.7 M1197 642.22 h-7.6 M1197 819.38 h-7.6 M1197 996.52 h-7.6 M1197 1173.67 h-7.6" fill="none" stroke="#000" stroke-width="3.8" stroke-linecap="butt"/>
<polyline points="1197,624.7 2022.7,624.7" fill="none" stroke="#808080" stroke-width="4.8" stroke-linejoin="round"/>
<polyline points="1197,624.2 1890.6,730.8 2022.7,748.2" fill="none" stroke="#ff0000" stroke-width="5" stroke-linejoin="round"/>
<polyline points="1197,617 1469.8,730.8 1890.6,904 2022.7,960" fill="none" stroke="#0000ff" stroke-width="5" stroke-linejoin="round"/>
<polyline points="1197,601.7 1411.4,730.8 1890.6,1011.3 2022.7,1092.3" fill="none" stroke="#ff8000" stroke-width="5" stroke-linejoin="round"/>
<line x1="1198.9" y1="730.7" x2="2022.7" y2="730.7" stroke="#7f7f7f" stroke-width="2.3" stroke-dasharray="9 10.5"/>
<line x1="1412" y1="749.6" x2="1412" y2="1165" stroke="#7f7f7f" stroke-width="2.4" stroke-dasharray="9.7 9.55"/>
<line x1="1466.9" y1="749.6" x2="1466.9" y2="1165" stroke="#7f7f7f" stroke-width="2.4" stroke-dasharray="9.7 9.55"/>
<line x1="1890.6" y1="749.6" x2="1890.6" y2="1161.5" stroke="#7f7f7f" stroke-width="2.4" stroke-dasharray="9.7 9.55"/>
<circle cx="1411.4" cy="730.7" r="10.3"/>
<circle cx="1469.8" cy="730.7" r="10.3"/>
<circle cx="1890.6" cy="730.7" r="10.3"/>
<text font-family='"Liberation Sans", sans-serif' font-size="33" transform="translate(1133.03 563.05) scale(1 1.03)">0.1</text>
<text font-family='"Liberation Sans", sans-serif' font-size="33" transform="translate(1133.03 740.2) scale(1 1.03)">0.0</text>
<text font-family='"Liberation Sans", sans-serif' font-size="33" transform="translate(1122.04 917.35) scale(1 1.03)">-0.1</text>
<text font-family='"Liberation Sans", sans-serif' font-size="33" transform="translate(1122.04 1094.5) scale(1 1.03)">-0.2</text>
<text font-family='"Liberation Sans", sans-serif' font-size="33" transform="translate(1174.36 1216.9) scale(1 1.03)">0.0</text>
<text font-family='"Liberation Sans", sans-serif' font-size="33" transform="translate(1380.79 1216.9) scale(1 1.03)">0.1</text>
<text font-family='"Liberation Sans", sans-serif' font-size="33" transform="translate(1587.21 1216.9) scale(1 1.03)">0.2</text>
<text font-family='"Liberation Sans", sans-serif' font-size="33" transform="translate(1793.64 1216.9) scale(1 1.03)">0.3</text>
<text font-family='"Liberation Sans", sans-serif' font-size="33" transform="translate(2000.06 1216.9) scale(1 1.03)">0.4</text>
<text x="1428.51" y="1269.4" font-family='"Liberation Sans", sans-serif' font-size="47.4">Electric field (V/Å)</text>
<text x="-1037.1" y="1094.6" font-family='"Liberation Sans", sans-serif' font-size="48.8" font-style="italic" transform="translate(0 0) rotate(-90)">E</text>
<text x="-1007.92" y="1107.6" font-family='"Liberation Sans", sans-serif' font-size="33.5" transform="translate(0 0) rotate(-90)">SAP</text>
<text x="-928.41" y="1094.6" font-family='"Liberation Sans", sans-serif' font-size="48.8" transform="translate(0 0) rotate(-90)">−</text>
<text x="-886.1" y="1094.6" font-family='"Liberation Sans", sans-serif' font-size="48.8" font-style="italic" transform="translate(0 0) rotate(-90)">E</text>
<text x="-855.12" y="1107.6" font-family='"Liberation Sans", sans-serif' font-size="33.5" transform="translate(0 0) rotate(-90)">SP</text>
<text x="-798.43" y="1094.6" font-family='"Liberation Sans", sans-serif' font-size="48.8" transform="translate(0 0) rotate(-90)">(eV)</text>
<text font-family='"Liberation Sans", sans-serif' font-size="48.6" transform="translate(1203.39 706.5) scale(1 1.04)">SP</text>
<text font-family='"Liberation Sans", sans-serif' font-size="48.6" transform="translate(1203.39 784.5) scale(1 1.04)">SAP</text>
<text x="1862.35" y="604.1" font-family='"DejaVu Serif", serif' font-size="38">Δ</text>
<text x="1888.96" y="613.1" font-family='"DejaVu Serif", serif' font-size="29">dd</text>
<text x="1928.57" y="604.1" font-family='"DejaVu Serif", serif' font-size="38">=</text>
<text x="1974.7" y="604.1" font-family='"DejaVu Serif", serif' font-size="38">0</text>
<text x="1776.75" y="696.8" font-family='"DejaVu Serif", serif' font-size="38">Δ</text>
<text x="1803.36" y="705.8" font-family='"DejaVu Serif", serif' font-size="29">dd</text>
<text x="1843.17" y="696.8" font-family='"DejaVu Serif", serif' font-size="38">=</text>
<text x="1889.47" y="696.8" font-family='"DejaVu Serif", serif' font-size="38">−</text>
<text x="1922.7" y="696.8" font-family='"DejaVu Serif", serif' font-size="38">0.1</text>
<text x="1678.75" y="803.4" font-family='"DejaVu Serif", serif' font-size="38">Δ</text>
<text x="1705.36" y="812.4" font-family='"DejaVu Serif", serif' font-size="29">dd</text>
<text x="1745.17" y="803.4" font-family='"DejaVu Serif", serif' font-size="38">=</text>
<text x="1791.47" y="803.4" font-family='"DejaVu Serif", serif' font-size="38">−</text>
<text x="1824.7" y="803.4" font-family='"DejaVu Serif", serif' font-size="38">0.3</text>
<text x="1680.75" y="1044.4" font-family='"DejaVu Serif", serif' font-size="38">Δ</text>
<text x="1707.36" y="1053.4" font-family='"DejaVu Serif", serif' font-size="29">dd</text>
<text x="1747.17" y="1044.4" font-family='"DejaVu Serif", serif' font-size="38">=</text>
<text x="1793.47" y="1044.4" font-family='"DejaVu Serif", serif' font-size="38">−</text>
<text x="1826.7" y="1044.4" font-family='"DejaVu Serif", serif' font-size="38">0.5</text>
<rect x="1216" y="838" width="362" height="314" fill="#fff"/>
<line x1="1286.5" y1="970.7" x2="1571" y2="970.7" stroke="#7f7f7f" stroke-width="1.2" stroke-dasharray="7 3.5"/>
<line x1="1428.75" y1="848.5" x2="1428.75" y2="1092.9" stroke="#7f7f7f" stroke-width="1.2" stroke-dasharray="7 3.5"/>
<polyline points="1286.5,865.77 1293.61,868.5 1300.72,871.43 1307.84,874.59 1314.95,877.98 1322.06,881.62 1329.17,885.54 1336.29,889.74 1343.4,894.24 1350.51,899.06 1357.62,904.2 1364.74,909.66 1371.85,915.45 1378.96,921.56 1386.08,927.98 1393.19,934.67 1400.3,941.62 1407.41,948.79 1414.53,956.12 1421.64,963.57 1428.75,971.08 1435.86,978.59 1442.97,986.04 1450.09,993.37 1457.2,1000.54 1464.31,1007.49 1471.42,1014.19 1478.54,1020.6 1485.65,1026.71 1492.76,1032.5 1499.88,1037.97 1506.99,1043.1 1514.1,1047.92 1521.21,1052.42 1528.33,1056.62 1535.44,1060.54 1542.55,1064.19 1549.66,1067.58 1556.78,1070.73 1563.89,1073.66 1571,1076.39" fill="none" stroke="#ff00ff" stroke-width="2.2"/>
<polyline points="1286.5,1071.5 1293.61,1069 1300.72,1066.29 1307.84,1063.36 1314.95,1060.2 1322.06,1056.78 1329.17,1053.09 1336.29,1049.11 1343.4,1044.83 1350.51,1040.24 1357.62,1035.33 1364.74,1030.09 1371.85,1024.53 1378.96,1018.64 1386.08,1012.45 1393.19,1005.98 1400.3,999.26 1407.41,992.32 1414.53,985.21 1421.64,977.98 1428.75,970.7 1435.86,963.42 1442.97,956.19 1450.09,949.08 1457.2,942.14 1464.31,935.42 1471.42,928.95 1478.54,922.76 1485.65,916.87 1492.76,911.31 1499.88,906.07 1506.99,901.16 1514.1,896.57 1521.21,892.29 1528.33,888.31 1535.44,884.62 1542.55,881.2 1549.66,878.04 1556.78,875.11 1563.89,872.4 1571,869.9" fill="none" stroke="#0a84ff" stroke-width="2.2"/>
<polyline points="1286.5,966.58 1293.61,966.8 1300.72,967.03 1307.84,967.25 1314.95,967.48 1322.06,967.7 1329.17,967.93 1336.29,968.15 1343.4,968.38 1350.51,968.6 1357.62,968.83 1364.74,969.05 1371.85,969.28 1378.96,969.5 1386.08,969.73 1393.19,969.96 1400.3,970.18 1407.41,970.41 1414.53,970.63 1421.64,970.86 1428.75,971.08 1435.86,971.31 1442.97,971.53 1450.09,971.76 1457.2,971.98 1464.31,972.21 1471.42,972.43 1478.54,972.66 1485.65,972.88 1492.76,973.11 1499.88,973.33 1506.99,973.56 1514.1,973.79 1521.21,974.01 1528.33,974.24 1535.44,974.46 1542.55,974.69 1549.66,974.91 1556.78,975.14 1563.89,975.36 1571,975.59" fill="none" stroke="#ff0000" stroke-width="2.4"/>
<rect x="1286.5" y="848.5" width="284.5" height="244.4" fill="none" stroke="#000" stroke-width="2.5"/>
<path d="M1286.5 848.5 h-5.6 M1286.5 909.6 h-5.6 M1286.5 970.7 h-5.6 M1286.5 1031.8 h-5.6 M1286.5 1092.9 h-5.6 M1286.5 879.05 h-3.4 M1286.5 940.15 h-3.4 M1286.5 1001.25 h-3.4 M1286.5 1062.35 h-3.4 M1314.95 1092.9 v5.2 M1371.85 1092.9 v5.2 M1428.75 1092.9 v5.2 M1485.65 1092.9 v5.2 M1542.55 1092.9 v5.2 M1286.5 1092.9 v3.3 M1343.4 1092.9 v3.3 M1400.3 1092.9 v3.3 M1457.2 1092.9 v3.3 M1514.1 1092.9 v3.3 M1571 1092.9 v3.3" fill="none" stroke="#000" stroke-width="2.1"/>
<text font-family='"Liberation Sans", sans-serif' font-size="15.9" transform="translate(1257.19 852.9) scale(1 1.03)">0.8</text>
<text font-family='"Liberation Sans", sans-serif' font-size="15.9" transform="translate(1256.96 914) scale(1 1.03)">0.4</text>
<text font-family='"Liberation Sans", sans-serif' font-size="15.9" transform="translate(1257.12 975.1) scale(1 1.03)">0.0</text>
<text font-family='"Liberation Sans", sans-serif' font-size="15.9" transform="translate(1251.67 1036.2) scale(1 1.03)">-0.4</text>
<text font-family='"Liberation Sans", sans-serif' font-size="15.9" transform="translate(1251.89 1097.3) scale(1 1.03)">-0.8</text>
<text font-family='"Liberation Sans", sans-serif' font-size="15.9" transform="translate(1300.93 1112) scale(1 1.03)">-0.4</text>
<text font-family='"Liberation Sans", sans-serif' font-size="15.9" transform="translate(1358 1112) scale(1 1.03)">-0.2</text>
<text font-family='"Liberation Sans", sans-serif' font-size="15.9" transform="translate(1417.5 1112) scale(1 1.03)">0.0</text>
<text font-family='"Liberation Sans", sans-serif' font-size="15.9" transform="translate(1474.49 1112) scale(1 1.03)">0.2</text>
<text font-family='"Liberation Sans", sans-serif' font-size="15.9" transform="translate(1531.22 1112) scale(1 1.03)">0.4</text>
<text x="-1087.22" y="1242.6" font-family='"Liberation Sans", sans-serif' font-size="24.6" transform="translate(0 0) rotate(-90)">Dipole moment (eÅ)</text>
<text x="1386.32" y="1136.8" font-family='"Liberation Sans", sans-serif' font-size="19.5">Δ</text>
<text x="1400.03" y="1145" font-family='"Liberation Sans", sans-serif' font-size="13.5">dd</text>
<text x="1425.45" y="1136.8" font-family='"Liberation Sans", sans-serif' font-size="24.6">(eV)</text>
<text x="1334.83" y="875.7" font-family='"Liberation Sans", sans-serif' font-size="25" font-style="italic">P</text>
<text x="1352.03" y="882.5" font-family='"Liberation Sans", sans-serif' font-size="17">SAP</text>
<text x="1394.77" y="875.7" font-family='"Liberation Sans", sans-serif' font-size="25">−</text>
<text x="1417.83" y="875.7" font-family='"Liberation Sans", sans-serif' font-size="25" font-style="italic">P</text>
<text x="1435.43" y="882.5" font-family='"Liberation Sans", sans-serif' font-size="17">SP</text>
<text x="1507.93" y="923.8" font-family='"Liberation Sans", sans-serif' font-size="25" font-style="italic">P</text>
<text x="1525.13" y="930.2" font-family='"Liberation Sans", sans-serif' font-size="17">SP</text>
<text x="1491.93" y="1001.2" font-family='"Liberation Sans", sans-serif' font-size="25" font-style="italic">P</text>
<text x="1509.13" y="1007.8" font-family='"Liberation Sans", sans-serif' font-size="17">SAP</text>
</svg>
</body>
</html>
